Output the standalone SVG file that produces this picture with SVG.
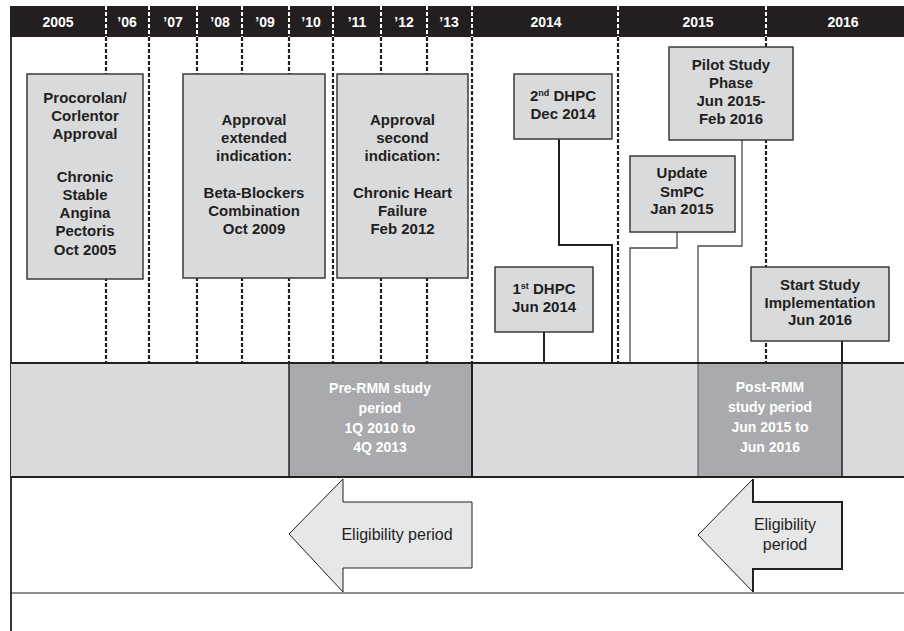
<svg xmlns="http://www.w3.org/2000/svg" width="904" height="631" viewBox="0 0 904 631">
<style>
.hdr{font-family:"Liberation Sans",Arial,sans-serif;font-weight:bold;font-size:14px;fill:#fff;text-anchor:middle}
.bt{font-family:"Liberation Sans",Arial,sans-serif;font-weight:bold;font-size:15px;fill:#231f20;text-anchor:middle}
.pt{font-family:"Liberation Sans",Arial,sans-serif;font-weight:bold;font-size:14px;fill:#fff;text-anchor:middle}
.et{font-family:"Liberation Sans",Arial,sans-serif;font-size:16px;fill:#231f20;text-anchor:middle}
.box{fill:#d9dadc;stroke:#3a3a3a;stroke-width:1.5}
.dsh{stroke:#231f20;stroke-width:2.2;stroke-dasharray:4 2;fill:none}
.dshw{stroke:#fff;stroke-width:2;stroke-dasharray:4 2;fill:none}
.cd{stroke:#231f20;stroke-width:2;fill:none}
.cg{stroke:#4a4a4a;stroke-width:1.3;fill:none}
</style>
<rect x="0" y="0" width="904" height="631" fill="#fff"/>
<g id="header">
<rect x="10" y="6" width="894" height="31" fill="#231f20"/>
<g class="dshw">
<path d="M106 6V37M149 6V37M197 6V37M242 6V37M289 6V37M333 6V37M381 6V37M427 6V37M472 6V37M618 6V37M766 6V37"/>
</g>
<text class="hdr" x="58" y="27">2005</text>
<text class="hdr" x="127" y="27">’06</text>
<text class="hdr" x="173" y="27">’07</text>
<text class="hdr" x="220" y="27">’08</text>
<text class="hdr" x="265" y="27">’09</text>
<text class="hdr" x="311" y="27">’10</text>
<text class="hdr" x="357" y="27">’11</text>
<text class="hdr" x="404" y="27">’12</text>
<text class="hdr" x="449" y="27">’13</text>
<text class="hdr" x="546" y="27">2014</text>
<text class="hdr" x="698" y="27">2015</text>
<text class="hdr" x="843" y="27">2016</text>
</g>
<g id="gridlines" class="dsh">
<path d="M106 37V363M149 37V363M197 37V363M242 37V363M289 37V363M333 37V363M381 37V363M427 37V363M472 37V363M618 37V363M766 37V363"/>
</g>
<line x1="11" y1="37" x2="11" y2="631" stroke="#231f20" stroke-width="1.8"/>
<g id="connectors">
<path class="cd" d="M559 139V245H612V363"/>
<path class="cd" d="M544 332V363" stroke-width="1.6"/>
<path class="cg" d="M677 232V248H630V363"/>
<path class="cg" d="M742 140V246H698V363"/>
<path class="cd" d="M842 341V363"/>
</g>
<g id="box-procoralan">
<rect class="box" x="27" y="74" width="116" height="205"/>
<text class="bt" x="85" y="103">Procorolan/</text>
<text class="bt" x="85" y="121">Corlentor</text>
<text class="bt" x="85" y="139">Approval</text>
<text class="bt" x="85" y="182">Chronic</text>
<text class="bt" x="85" y="200">Stable</text>
<text class="bt" x="85" y="218">Angina</text>
<text class="bt" x="85" y="236">Pectoris</text>
<text class="bt" x="85" y="255">Oct 2005</text>
</g>
<g id="box-extended">
<rect class="box" x="183" y="74" width="142" height="204"/>
<text class="bt" x="254" y="125">Approval</text>
<text class="bt" x="254" y="143">extended</text>
<text class="bt" x="254" y="161">indication:</text>
<text class="bt" x="254" y="198">Beta-Blockers</text>
<text class="bt" x="254" y="216">Combination</text>
<text class="bt" x="254" y="234">Oct 2009</text>
</g>
<g id="box-second">
<rect class="box" x="337" y="74" width="131" height="204"/>
<text class="bt" x="402.5" y="125">Approval</text>
<text class="bt" x="402.5" y="143">second</text>
<text class="bt" x="402.5" y="161">indication:</text>
<text class="bt" x="402.5" y="198">Chronic Heart</text>
<text class="bt" x="402.5" y="216">Failure</text>
<text class="bt" x="402.5" y="234">Feb 2012</text>
</g>
<g id="box-dhpc2">
<rect class="box" x="514" y="74" width="98" height="65"/>
<text class="bt" x="563" y="101">2<tspan font-size="9" dy="-5">nd</tspan><tspan dy="5"> DHPC</tspan></text>
<text class="bt" x="563" y="119">Dec 2014</text>
</g>
<g id="box-dhpc1">
<rect class="box" x="495" y="267" width="98" height="65"/>
<text class="bt" x="544" y="294">1<tspan font-size="9" dy="-5">st</tspan><tspan dy="5"> DHPC</tspan></text>
<text class="bt" x="544" y="312">Jun 2014</text>
</g>
<g id="box-pilot">
<rect class="box" x="669" y="47" width="124" height="93"/>
<text class="bt" x="731" y="70">Pilot Study</text>
<text class="bt" x="731" y="88">Phase</text>
<text class="bt" x="731" y="106">Jun 2015-</text>
<text class="bt" x="731" y="124">Feb 2016</text>
</g>
<g id="box-smpc">
<rect class="box" x="630" y="156" width="105" height="76"/>
<text class="bt" x="682" y="178">Update</text>
<text class="bt" x="682" y="197">SmPC</text>
<text class="bt" x="682" y="214">Jan 2015</text>
</g>
<g id="box-start">
<rect class="box" x="751" y="267" width="138" height="74"/>
<text class="bt" x="820" y="290">Start Study</text>
<text class="bt" x="820" y="308">Implementation</text>
<text class="bt" x="820" y="325">Jun 2016</text>
</g>
<g id="timeline-bar">
<rect x="11" y="363" width="893" height="114" fill="#d9dadc"/>
<rect x="289" y="363" width="183" height="114" fill="#a9aaad"/>
<rect x="698" y="363" width="144" height="114" fill="#a9aaad"/>
<line x1="289" y1="363" x2="289" y2="477" stroke="#231f20" stroke-width="1.5"/>
<line x1="472" y1="363" x2="472" y2="477" stroke="#231f20" stroke-width="2"/>
<line x1="698" y1="363" x2="698" y2="477" stroke="#555" stroke-width="1"/>
<line x1="842" y1="363" x2="842" y2="477" stroke="#231f20" stroke-width="1.5"/>
<line x1="11" y1="363" x2="904" y2="363" stroke="#231f20" stroke-width="2"/>
<line x1="11" y1="477" x2="904" y2="477" stroke="#231f20" stroke-width="2"/>
</g>
<g id="pre-rmm">
<text class="pt" x="380" y="393">Pre-RMM study</text>
<text class="pt" x="380" y="413">period</text>
<text class="pt" x="380" y="433">1Q 2010 to</text>
<text class="pt" x="380" y="452">4Q 2013</text>
</g>
<g id="post-rmm">
<text class="pt" x="770" y="392">Post-RMM</text>
<text class="pt" x="770" y="412">study period</text>
<text class="pt" x="770" y="432">Jun 2015 to</text>
<text class="pt" x="770" y="452">Jun 2016</text>
</g>
<line x1="11" y1="593" x2="904" y2="593" stroke="#231f20" stroke-width="1"/>
<g id="arrow-pre">
<polygon points="289,534 343,479 343,502 472,502 472,568 343,568 343,592" fill="#e6e7e9" stroke="#231f20" stroke-width="1"/>
<text class="et" x="397" y="540">Eligibility period</text>
</g>
<g id="arrow-post">
<polygon points="698,535 753,479 753,502 842,502 842,569 753,569 753,592" fill="#e6e7e9" stroke="#231f20" stroke-width="1"/>
<path d="M753 479V502H842V569H753V592" fill="none" stroke="#231f20" stroke-width="2"/>
<text class="et" x="785" y="530">Eligibility</text>
<text class="et" x="785" y="550">period</text>
</g>
</svg>
